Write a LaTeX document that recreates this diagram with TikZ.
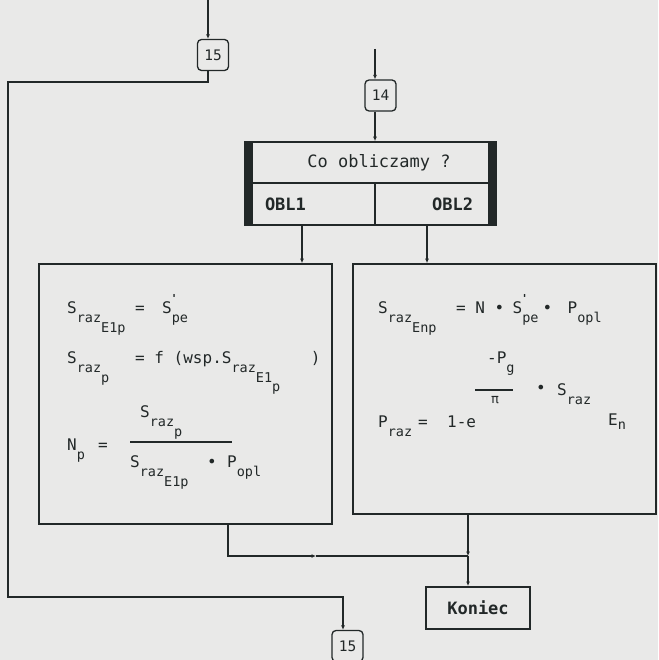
\documentclass[tikz,border=0pt]{standalone}
\usepackage{fontspec}
\setmonofont{DejaVu Sans Mono}
\usetikzlibrary{positioning,arrows.meta}
\definecolor{paper}{RGB}{233,233,232}
\definecolor{ink}{RGB}{34,40,40}
% lowered index in the printer font
\newcommand{\lo}[1]{\raisebox{-9.5pt}{\fontsize{13.5}{14}\selectfont #1}}
\newcommand{\tick}{\rlap{\raisebox{11pt}{\fontsize{11}{11}\selectfont\bfseries\kern-1pt'}}}

\begin{document}
\begin{tikzpicture}[x=1pt, y=-1pt, >={Latex[length=4.5pt,width=4pt]},
  font=\ttfamily\fontsize{16}{18}\selectfont, color=ink,
  box/.style={draw, line width=1.7pt, inner sep=0pt},
  conn/.style={draw, rounded corners=4pt, line width=1.3pt, minimum size=31pt, inner sep=0pt, font=\ttfamily\fontsize{14.5}{14}\selectfont},
  flow/.style={line width=1.3pt, ->},
  fml/.style={anchor=base west, inner sep=0pt}]
\fill[paper] (0,0) rectangle (658,660);
\useasboundingbox (0,0) rectangle (658,660);

% connectors
\node[conn] (c15a) at (213,55) {15};
\node[conn] (c14) at (380.5,95.5) {14};
\node[conn] (c15b) at (347.5,646) {15};
\coordinate (in15) at (208,0);
\coordinate (in14) at (375,49);
\coordinate (loop) at (8,597);

% decision block
\node[box, minimum width=251pt, minimum height=41pt, font=\ttfamily\fontsize{17}{17}\selectfont] (ask) at (370.5,162.5) {\hspace*{17pt}Co obliczamy ?};
\node[box, minimum width=130pt, minimum height=42pt, text width=90pt, inner xsep=20pt, align=left,
  font=\ttfamily\bfseries\fontsize{17}{17}\selectfont] (obl1) at (310,204) {OBL1};
\node[box, minimum width=121pt, minimum height=42pt, text width=75pt, inner xsep=23pt, align=right,
  font=\ttfamily\bfseries\fontsize{17}{17}\selectfont] (obl2) at (435.5,204) {OBL2};
\fill (ask.north west) rectangle ([xshift=9pt]obl1.south west);
\fill ([xshift=-9pt]ask.north east) rectangle (obl2.south east);

% computation blocks
\node[box, minimum width=293pt, minimum height=260pt] (calc1) at (185.5,394) {};
\node[box, minimum width=303pt, minimum height=250pt] (calc2) at (504.5,389) {};
\node[box, line width=2pt, minimum width=104pt, minimum height=42pt,
  font=\ttfamily\bfseries\fontsize{17}{17}\selectfont] (koniec) at (478,608) {Koniec};

% OBL1
\node[fml] (l1) at (67,313) {\makebox[95pt][l]{\makebox[68pt][l]{S\lo{raz\lo{E1p}}}=}S\tick\lo{pe}};
\node[fml] (l2) at (67,363) {\makebox[68pt][l]{S\lo{raz\lo{p}}}= f (wsp.\makebox[89pt][l]{S\lo{raz\lo{E1\lo{p}}}})};
\node[fml] (l3) at (67,450) {\makebox[31pt][l]{N\lo{p}}=};
\node[fml] (l3num) at (140,417) {S\lo{raz\lo{p}}};
\node[fml] (l3den) at (130,467) {\makebox[77pt][l]{S\lo{raz\lo{E1p}}}\makebox[20pt][l]{•}P\lo{opl}};
\draw[line width=1.2pt] (130,442) -- (232,442);

% OBL2
\node[fml] (r1) at (378,313) {\makebox[78pt][l]{S\lo{raz\lo{Enp}}}= N \makebox[18pt][l]{•}\makebox[30pt][l]{S\tick\lo{pe}}\makebox[25pt][l]{•}P\lo{opl}};
\node[fml] (r2) at (378,427) {\makebox[40pt][l]{P\lo{raz}}\makebox[29pt][l]{=}1-e};
\node[fml] (r2num) at (487,363) {-P\lo{g}};
\node[fml, font=\ttfamily\fontsize{13}{13}\selectfont] (r2den) at (491,403) {π};
\draw[line width=1.2pt] (475,390) -- (513,390);
\node[fml] (r2dot) at (536,393) {•};
\node[fml] (r2s) at (557,395) {S\lo{raz}};
\node[fml] (r2e) at (608,425) {E\raisebox{-4pt}{\fontsize{13.5}{14}\selectfont n}};

% flow
\draw[flow] (in15) -- (in15 |- c15a.north);
\draw[flow] ([xshift=-5pt]c15a.south) -- ++(0,11) -| (loop) -| ([xshift=-4.5pt]c15b.north);
\draw[flow] (in14) -- (in14 |- c14.north);
\draw[flow] ([xshift=-5.5pt]c14.south) -- ([xshift=-5.5pt]c14.south |- ask.north);
\draw[flow] ([xshift=-8pt]obl1.south) -- ([xshift=-8pt]obl1.south |- calc1.north);
\draw[flow] ([xshift=-8.5pt]obl2.south) -- ([xshift=-8.5pt]obl2.south |- calc2.north);
\coordinate (join) at (468,556);
\coordinate (mid) at (316,556);
\draw[flow] ([xshift=42.5pt]calc1.south) |- (mid);
\draw[line width=1.3pt] (mid) -- (join);
\draw[flow] (calc2.south -| join) -- (join);
\draw[flow] (join) -- (join |- koniec.north);
\end{tikzpicture}
\end{document}
